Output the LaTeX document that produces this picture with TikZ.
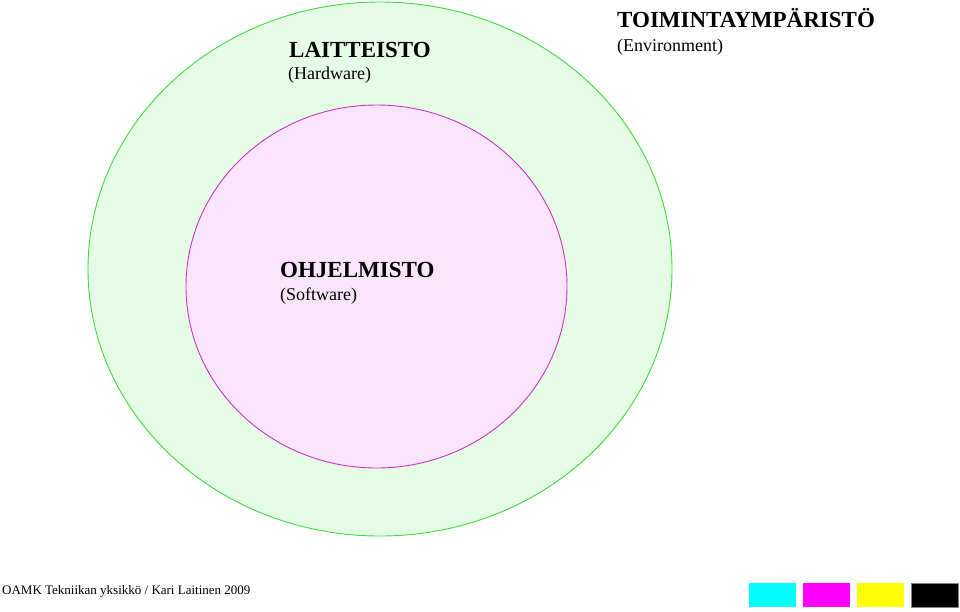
\documentclass[tikz,border=0pt]{standalone}
\usepackage{fontspec}
\setmainfont{Liberation Serif}
\usepackage{tikz}
\definecolor{hwfill}{RGB}{229,252,229}
\definecolor{hwline}{RGB}{60,220,60}
\definecolor{swfill}{RGB}{252,228,252}
\definecolor{swline}{RGB}{204,51,204}
\definecolor{inkcyan}{RGB}{0,255,255}
\definecolor{inkmagenta}{RGB}{255,0,255}
\definecolor{inkyellow}{RGB}{255,255,0}
\tikzset{
  title/.style={anchor=base west, inner sep=0pt, font=\fontsize{23}{27}\selectfont\bfseries},
  subtitle/.style={anchor=base west, inner sep=0pt, font=\fontsize{18}{22}\selectfont},
  swatch/.style={minimum width=47pt, minimum height=24pt, inner sep=0pt, anchor=north west}
}

\begin{document}
\begin{tikzpicture}[x=1pt, y=-1pt]
  \useasboundingbox (0,0) rectangle (960,611);
  % layers
  \draw[hwline, fill=hwfill, line width=0.9pt] (380,269) ellipse [x radius=292, y radius=267];
  \draw[swline, fill=swfill, line width=0.9pt] (376.5,286.5) ellipse [x radius=190.5, y radius=181.5];
  % labels
  \node[title] (envtitle) at (617,27) {TOIMINTAYMPÄRISTÖ};
  \node[subtitle] (envsub) at (617,51) {(Environment)};
  \node[title] (hwtitle) at (289,57) {LAITTEISTO};
  \node[subtitle] (hwsub) at (288,79) {(Hardware)};
  \node[title] (swtitle) at (280,277) {OHJELMISTO};
  \node[subtitle] (swsub) at (280,300) {(Software)};
  % footer
  \node[anchor=base west, inner sep=0pt, font=\fontsize{13}{15}\selectfont] (credit) at (2,594)
    {OAMK Tekniikan yksikkö / Kari Laitinen 2009};
  \node[swatch, fill=inkcyan] (cyanbox) at (749,583) {};
  \node[swatch, fill=inkmagenta] (magentabox) at (803,583) {};
  \node[swatch, fill=inkyellow] (yellowbox) at (857,583) {};
  \node[swatch, fill=black, draw=gray] (blackbox) at (911,583) {};
\end{tikzpicture}
\end{document}
